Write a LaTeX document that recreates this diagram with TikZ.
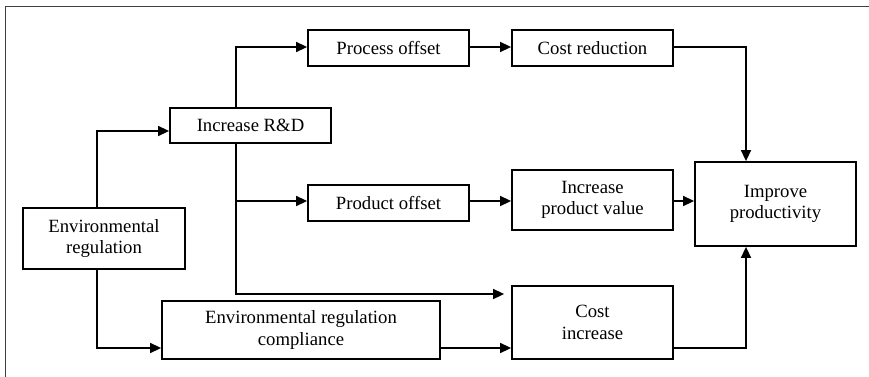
\documentclass[tikz,border=0pt]{standalone}
\usepackage{fontspec}
\setmainfont{Liberation Serif}
\usetikzlibrary{arrows.meta,calc}
\begin{document}
\begin{tikzpicture}[x=1pt,y=1pt,
  box/.style={draw=black, line width=1.8pt, inner sep=0pt, align=center,
    font=\fontsize{18.7}{21.5}\selectfont},
  arr/.style={-{Triangle[length=11pt,width=10pt]}, line width=1.5pt}]
\useasboundingbox (0,0) rectangle (869,-377);
\fill[white] (0,0) rectangle (869,-377);
\draw[black!75, line width=1pt] (5,-377) -- (5,-7) -- (869,-7);

\node[box, minimum width=161pt, minimum height=36pt] (PO) at (388.5,-48) {Process offset};
\node[box, minimum width=161pt, minimum height=36pt] (CR) at (592.5,-48) {Cost reduction};
\node[box, minimum width=161pt, minimum height=35pt] (RD) at (250.5,-125.5) {Increase R\&D};
\node[box, minimum width=162pt, minimum height=61pt] (ER) at (104,-238.5) {Environmental\\regulation};
\node[box, minimum width=161pt, minimum height=36pt] (PRO) at (388.5,-203) {Product offset};
\node[box, minimum width=161pt, minimum height=60pt] (IPV) at (592.5,-200) {Increase\\product value};
\node[box, minimum width=161pt, minimum height=84pt] (IP) at (775.5,-204) {Improve\\productivity};
\node[box, minimum width=278pt, minimum height=58pt] (ERC) at (301,-330) {Environmental regulation\\compliance};
\node[box, minimum width=161pt, minimum height=73pt] (CI) at (592.5,-322.5) {Cost\\increase};

\draw[arr] (ER.north -| 97,0) |- (RD.west |- 0,-131);
\draw[arr] (ER.south -| 97,0) |- (ERC.west |- 0,-348);
\draw[arr] (RD.north -| 236,0) |- (PO.west |- 0,-47);
\draw[arr] (RD.south -| 236,0) |- (PRO.west |- 0,-201);
\draw[arr, shorten >=7pt] (RD.south -| 236,0) |- (CI.west |- 0,-294);
\draw[arr] (PO.east |- 0,-47) -- (CR.west |- 0,-47);
\draw[arr] (PRO.east |- 0,-201) -- (IPV.west |- 0,-201);
\draw[arr] (IPV.east |- 0,-201) -- (IP.west |- 0,-201);
\draw[arr] (CR.east |- 0,-47) -| (IP.north -| 746,0);
\draw[arr] (ERC.east |- 0,-348) -- (CI.west |- 0,-348);
\draw[arr] (CI.east |- 0,-348) -| (IP.south -| 746,0);
\end{tikzpicture}
\end{document}
